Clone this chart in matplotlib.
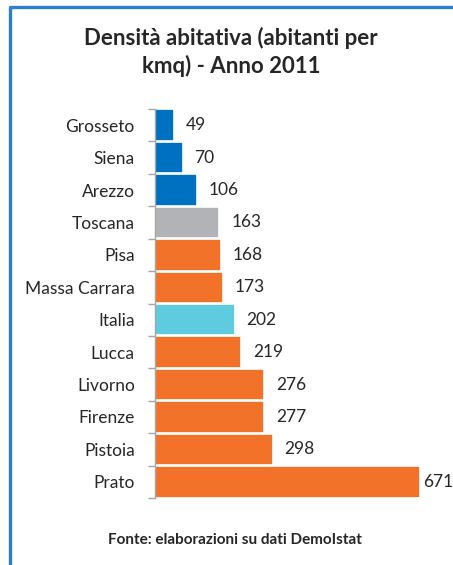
import matplotlib.pyplot as plt
from matplotlib.lines import Line2D

## Data
regions = ['Grosseto', 'Siena', 'Arezzo', 'Toscana', 'Pisa', 'Massa Carrara',
           'Italia', 'Lucca', 'Livorno', 'Firenze', 'Pistoia', 'Prato']
density = [49, 70, 106, 163, 168, 173, 202, 219, 276, 277, 298, 671]
groups = ['prov_blue', 'prov_blue', 'prov_blue', 'toscana', 'prov', 'prov',
          'italia', 'prov', 'prov', 'prov', 'prov', 'prov']

colors = {'prov_blue': '#0070C0', 'toscana': '#B1B3B6',
          'italia': '#5FCBDF', 'prov': '#F2722A'}

plt.rcParams['font.family'] = ['Lato', 'DejaVu Sans']

fig = plt.figure(figsize=(4.53, 5.65), dpi=100)
ax = fig.add_axes([155 / 453, 1 - 498 / 565, 285 / 453, 389 / 565])

pos = list(range(len(regions)))
ax.barh(pos, density, height=0.97, color=[colors[g] for g in groups],
        edgecolor='white', linewidth=1.2)

ax.set_ylim(len(regions) - 0.5, -0.5)
ax.set_xlim(0, 722)

# value labels
for i, v in enumerate(density):
    off = 2 if v == max(density) else 8.5
    ax.annotate(str(v), (v, i), xytext=(off, 0), textcoords='offset points',
                va='center', ha='left', fontsize=12.5, color='#262626')

ax.set_yticks(pos)
ax.set_yticklabels(regions, fontsize=12.5, color='#262626')
ax.tick_params(axis='y', which='major', length=0, pad=14.5)
ax.set_yticks([p - 0.5 for p in pos] + [len(regions) - 0.5], minor=True)
ax.tick_params(axis='y', which='minor', length=5, color='#A6A6A6', width=1)
ax.set_xticks([])

for s in ['top', 'right', 'bottom']:
    ax.spines[s].set_visible(False)
ax.spines['left'].set_color('#A6A6A6')
ax.spines['left'].set_linewidth(1)

fig.text(0.51, 1 - 52 / 565, 'Densità abitativa (abitanti per\nkmq) - Anno 2011',
         ha='center', va='center', fontsize=16, fontweight='bold',
         color='#262626', linespacing=1.35)
fig.text(0.518, 1 - 540 / 565, 'Fonte: elaborazioni su dati DemoIstat',
         ha='center', va='center', fontsize=11, fontweight='bold', color='#262626')

# frame border (top and left)
fig.add_artist(Line2D([9.5 / 453, 9.5 / 453, 1], [0, 1 - 6.5 / 565, 1 - 6.5 / 565],
                      transform=fig.transFigure, color='#2E7FCB', linewidth=2.4))

fig.savefig('out.png', dpi=100)
